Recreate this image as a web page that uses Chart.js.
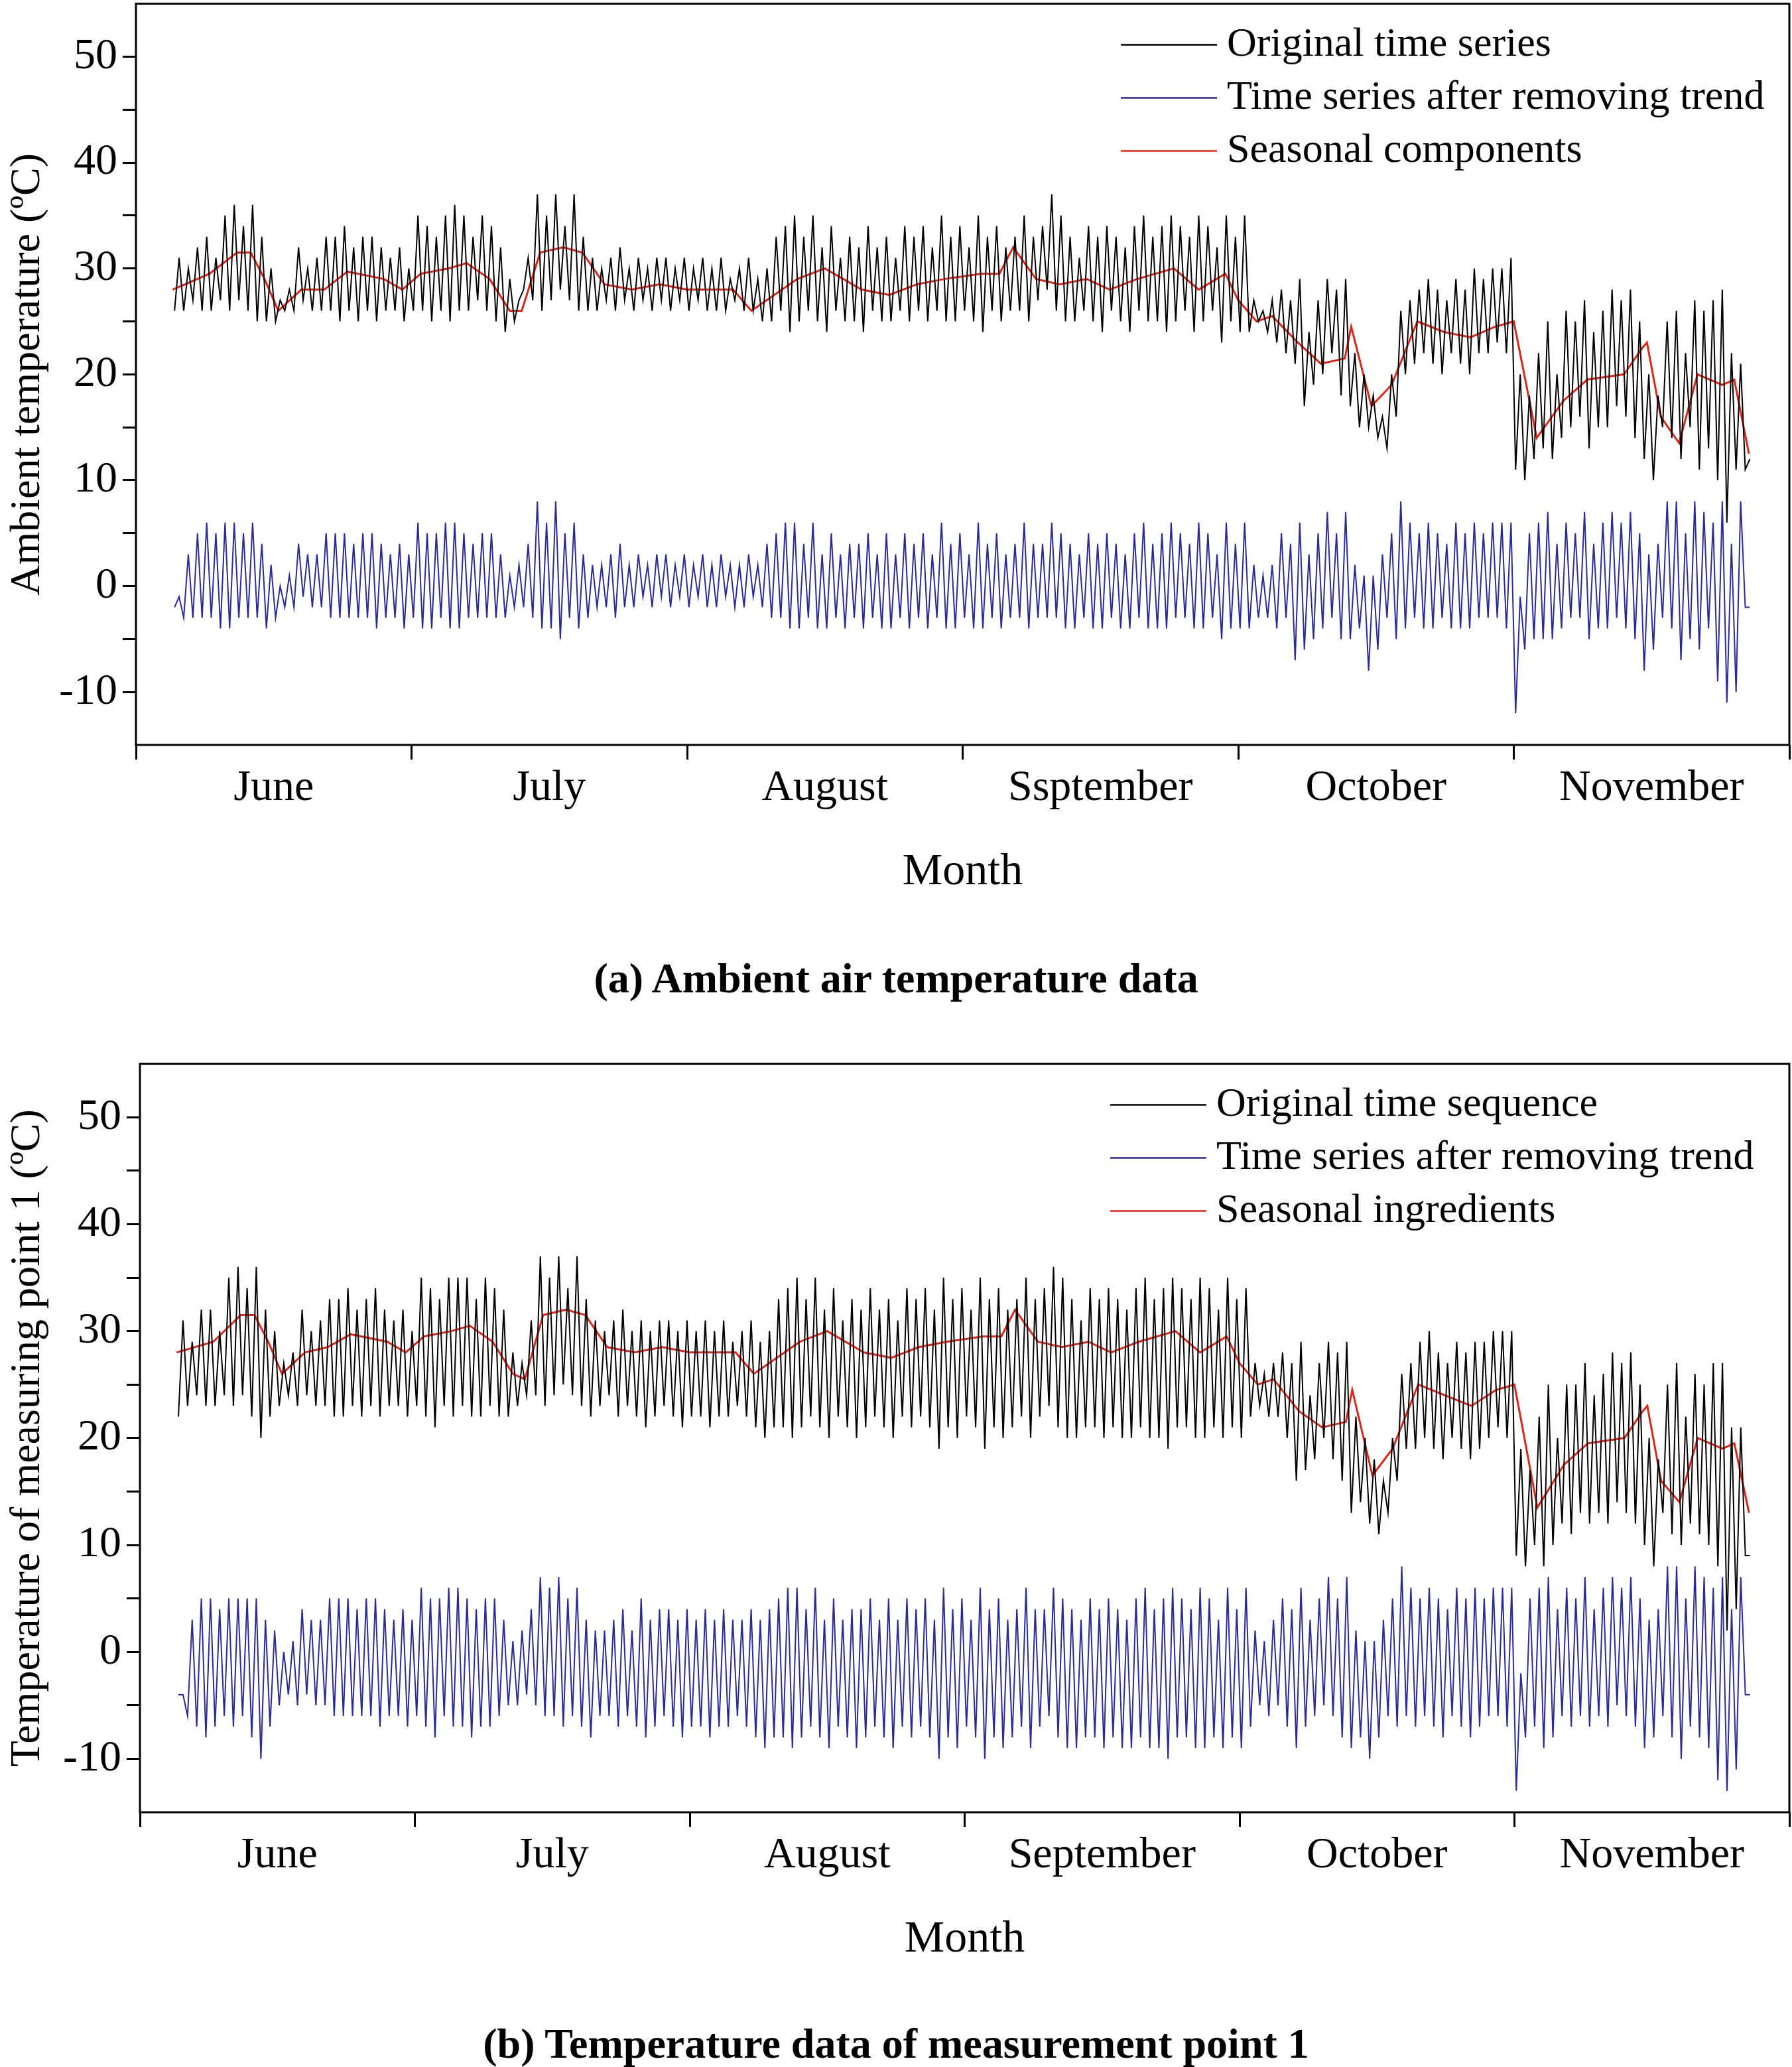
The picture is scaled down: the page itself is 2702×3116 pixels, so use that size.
<!DOCTYPE html>
<html>
<head>
<meta charset="utf-8">
<script src="https://cdn.jsdelivr.net/npm/chart.js@4.4.1/dist/chart.umd.min.js"></script>
<style>
  body { margin: 0; background: #fff; width: 2702px; height: 3116px; position: relative; font-family: "Liberation Serif", serif; overflow: hidden; }
  .wrap { position: absolute; left: 0; width: 2702px; }
  .cap { position: absolute; left: 0; width: 2702px; text-align: center; font-weight: bold; font-size: 64px; line-height: 70px; }
</style>
</head>
<body>
<div class="wrap" style="top:-42px;height:1402px"><canvas id="chart_a"></canvas></div>
<div class="cap" style="top:1440px">(a) Ambient air temperature data</div>
<div class="wrap" style="top:1556px;height:1413px"><canvas id="chart_b"></canvas></div>
<div class="cap" style="top:3046px">(b) Temperature data of measurement point 1</div>
<script>
// months on x axis, each drawn as a 30 day block
let month_labels_a = ['June', 'July', 'August', 'Ssptember', 'October', 'November'];
let month_labels_b = ['June', 'July', 'August', 'September', 'October', 'November'];
let first_day = 4;

// panel (a) daily highs / lows
let orig_high_a = [31,30,32,33,31,35,36,34,36,33, 30,27,28,32,30,31,33,33,34,32, 33,33,32,31,32,30,35,34,33,35,
  36,35,33,35,34,32,29,27,31,37, 35,37,34,37,33,31,30,31,32,30, 31,30,31,31,30,31,30,31,30,31,
  29,30,31,29,30,33,34,35,33,35, 32,34,31,33,32,34,32,33,31,34, 33,34,32,35,33,34,32,35,33,34,
  32,33,35,33,34,37,35,33,31,34, 33,34,33,32,34,35,33,34,35,34, 33,35,34,32,35,33,35,27,26,27,
  28,27,29,24,27,29,28,29,22,20, 18,16,20,26,27,28,29,28,27,29, 28,30,29,30,30,31,20,18,22,25,
  20,26,25,27,24,26,28,27,28,25, 20,18,25,26,22,27,26,27,28,22, 21,12];
let orig_low_a = [26,26,27,26,26,27,26,27,26,25, 25,25,26,26,27,26,26,26,25,26, 25,26,25,26,26,25,26,26,25,26,
  25,26,26,27,26,25,24,25,28,27, 26,27,28,27,26,26,26,27,26,27, 26,27,26,27,26,27,26,27,26,26,
  26,27,26,26,25,25,26,24,25,26, 25,24,26,25,25,24,26,25,25,26, 25,26,25,26,25,25,26,25,24,26,
  25,26,26,25,27,28,26,25,25,26, 25,24,26,25,24,26,25,25,24,25, 26,24,25,26,23,25,24,24,25,24,
  23,22,21,17,19,20,22,18,17,15, 15,14,13,16,20,21,22,21,20,22, 21,20,22,22,23,22,11,10,12,13,
  12,14,15,16,13,15,15,17,16,14, 12,10,15,14,12,15,11,13,10,6, 11,11];
let det_high_a = [-1,3,5,6,5,6,6,5,6,4, 2,0,1,4,3,3,5,5,5,4, 5,5,4,3,4,3,6,5,5,6,
  6,5,4,5,5,3,1,2,4,8, 6,8,5,6,3,2,2,3,4,2, 3,2,3,3,2,3,2,3,2,3,
  2,2,3,2,4,5,6,6,4,6, 3,5,3,4,4,5,3,5,3,5, 4,5,3,6,4,5,3,6,4,5,
  3,4,6,4,4,6,5,4,3,5, 4,5,4,3,5,6,4,5,6,5, 4,6,5,3,6,4,6,2,1,2,
  5,4,6,3,5,7,5,7,2,1, 1,3,5,8,6,5,6,5,4,6, 5,6,5,6,6,6,-1,5,6,7,
  4,6,5,7,4,6,7,6,7,5, 3,4,8,8,5,8,7,6,8,4, 8,-2];
let det_low_a = [-2,-3,-3,-3,-3,-4,-4,-3,-3,-3, -4,-3,-2,-2,-1,-2,-2,-3,-3,-3, -3,-3,-4,-3,-3,-4,-3,-4,-4,-3,
  -4,-4,-3,-3,-3,-3,-3,-2,-2,-3, -4,-4,-5,-3,-4,-3,-2,-2,-3,-2, -2,-1,-2,-1,-2,-1,-2,-1,-2,-2,
  -1,-2,-2,-1,-2,-3,-3,-4,-4,-3, -4,-4,-3,-4,-3,-4,-3,-4,-4,-3, -4,-3,-4,-3,-4,-4,-3,-4,-4,-3,
  -4,-3,-3,-4,-3,-3,-3,-4,-4,-3, -4,-4,-3,-4,-4,-3,-4,-4,-4,-3, -3,-4,-4,-3,-5,-4,-4,-4,-3,-3,
  -4,-3,-7,-6,-5,-4,-3,-5,-5,-4, -8,-6,-3,-5,-4,-3,-4,-4,-3,-4, -4,-4,-3,-3,-3,-4,-12,-6,-5,-5,
  -5,-4,-3,-3,-5,-4,-4,-3,-4,-5, -8,-6,-3,-4,-7,-5,-6,-4,-9,-11, -10,-2];

// seasonal component (same shape in both panels)
let seasonal_days = [4,8,11,12.5,14,15.5,18,20.5,23,27,29,31,34,36,38.5,40.7,42,44,46.5,48.6,51,54,57,60,65,67,72,75,79,82,85,88,92,94,95.5,98,100.6,103.5,106,109,113,115.7,118.6,120,122,123.7,126.5,129,131.6,132.3,134.5,136.7,139.5,142.4,145.3,148,150,152.5,155.4,158,162,164,164.5,166,168,170,172.7,174,175.6];
let seasonal_a = [28,29.5,31.5,31.5,29,26,28,28,29.7,29,28,29.5,30,30.5,29,26,26,31.5,32,31.5,28.5,28,28.5,28,28,26,29,30,28,27.5,28.5,29,29.5,29.5,32,29,28.5,29,28,29,30,28,29.5,27,25,25.5,23,21,21.5,24.5,17,19,25,24,23.5,24.5,25,14,17.5,19.5,20,22.5,23,16,13.5,20,19,19.5,12.5];
let seasonal_b = [28,29,31.5,31.5,29,26,28,28.5,29.7,29,28,29.5,30,30.5,29,26,25.5,31.5,32,31.5,28.5,28,28.5,28,28,26,29,30,28,27.5,28.5,29,29.5,29.5,32,29,28.5,29,28,29,30,28,29.5,27,25,25.5,22.5,21,21.5,24.5,16.5,19,25,24,23,24.5,25,13.5,17.5,19.5,20,22.5,23,16,14,20,19,19.5,13];

// panel (b)
let orig_high_b = [31,29,32,32,30,35,36,34,36,32, 30,27,28,32,30,31,33,33,34,32, 33,34,32,31,32,30,35,34,33,35,
  35,35,33,35,34,32,28,27,31,37, 35,37,34,37,33,31,30,31,32,30, 31,30,31,31,30,31,30,31,30,31,
  29,30,31,29,30,33,34,35,33,35, 32,34,31,33,32,34,32,33,31,34, 33,34,32,35,33,34,32,35,33,34,
  32,33,35,33,34,36,35,33,31,34, 33,34,33,32,34,35,33,34,35,34, 33,35,34,32,35,33,34,27,26,27,
  28,27,29,24,27,29,28,29,22,20, 18,16,20,26,27,29,30,28,27,29, 28,29,29,30,30,30,19,17,22,25,
  20,25,25,27,24,26,28,27,28,25, 20,18,25,27,22,26,25,27,27,21, 21,9];
let orig_low_b = [22,23,24,23,23,24,23,24,22,20, 22,23,24,23,24,23,23,22,22,23, 22,23,22,23,23,22,23,22,21,23,
  22,23,22,22,23,22,22,23,24,24, 23,24,25,24,23,22,23,24,22,23, 22,21,22,23,22,21,22,22,21,22,
  22,23,22,21,20,21,21,20,21,22, 21,20,22,21,20,21,22,21,20,22, 21,22,21,19,21,20,22,21,19,21,
  20,21,22,20,22,23,21,20,20,21, 21,20,21,20,20,21,20,20,19,21, 21,20,20,21,20,21,20,22,23,22,
  22,20,16,17,18,20,18,16,13,14, 12,11,13,16,19,19,20,19,18,20, 19,18,19,20,21,20,9,8,10,8,
  10,12,11,13,12,13,12,14,13,12, 10,8,13,11,10,12,11,10,8,2, 4,9];
let det_high_b = [-4,3,5,5,4,5,5,5,5,3, 2,0,1,4,3,3,5,5,5,4, 5,5,4,3,4,3,6,5,5,6,
  6,5,4,5,5,3,1,2,4,7, 6,7,5,6,3,2,2,3,4,2, 5,3,4,4,3,4,3,4,3,4,
  3,3,4,3,4,5,6,6,4,6, 3,5,3,4,4,5,3,5,3,5, 4,5,3,6,4,5,3,6,4,5,
  3,4,6,4,4,6,5,4,3,5, 4,5,4,3,5,6,4,5,6,5, 4,6,5,3,6,4,6,2,1,3,
  5,4,6,3,5,7,5,7,2,1, 1,3,5,8,6,5,6,5,4,6, 5,6,5,6,6,6,-2,5,6,7,
  4,6,5,7,4,6,7,6,7,5, 3,4,8,8,5,8,7,6,7,4, 7,-4];
let det_low_b = [-4,-6,-7,-8,-7,-6,-7,-6,-8,-10, -7,-5,-4,-5,-4,-5,-5,-6,-6,-6, -6,-6,-7,-6,-6,-7,-6,-7,-8,-6,
  -7,-7,-8,-7,-7,-6,-5,-5,-4,-5, -6,-6,-7,-6,-7,-8,-6,-6,-7,-6, -7,-8,-7,-6,-7,-8,-7,-7,-8,-7,
  -7,-6,-7,-8,-9,-8,-8,-9,-8,-7, -8,-9,-7,-8,-9,-8,-7,-8,-9,-7, -8,-7,-8,-10,-8,-9,-7,-8,-10,-8,
  -9,-8,-7,-9,-7,-6,-8,-9,-9,-8, -8,-9,-8,-9,-9,-8,-9,-9,-10,-8, -8,-9,-9,-8,-9,-8,-9,-7,-5,-6,
  -5,-7,-9,-7,-6,-5,-6,-8,-9,-8, -10,-8,-6,-7,-6,-7,-6,-7,-8,-6, -7,-8,-7,-6,-6,-7,-13,-8,-7,-9,
  -8,-6,-7,-6,-7,-6,-7,-5,-6,-7, -9,-8,-6,-8,-10,-7,-8,-9,-12,-13, -11,-4];

// low then high inside each day
const dailyPoints = (lows, highs) => {
    let pts = [];
    lows.forEach((low, i) => {
        pts.push({x: first_day + i + 0.2, y: low});
        pts.push({x: first_day + i + 0.7, y: highs[i]});
    });
    return pts;
}

const framePlugin = {
    id: 'frame',
    afterDraw(chart) {
        let ctx = chart.ctx, a = chart.chartArea;
        ctx.save();
        ctx.strokeStyle = '#000';
        ctx.lineWidth = 3;
        ctx.strokeRect(a.left, a.top, a.right - a.left, a.bottom - a.top);
        // legend inside top right
        let lx = chart.options.plugins.frame.legendX;
        ctx.font = '62px "Liberation Serif"';
        ctx.textBaseline = 'middle';
        chart.data.datasets.forEach((ds, i) => {
            let y = a.top + 62 + i * 80;
            ctx.strokeStyle = ds.borderColor;
            ctx.lineWidth = 2.5;
            ctx.beginPath();
            ctx.moveTo(lx, y);
            ctx.lineTo(lx + 145, y);
            ctx.stroke();
            ctx.fillStyle = '#000';
            ctx.fillText(ds.label, lx + 160, y);
        });
        ctx.restore();
    }
};

const drawPanel = (canvas_id, months, y_title, labels, origL, origH, detL, detH, seas, left, padTop, legendX) => {
    let chart_holder = document.getElementById(canvas_id);
    let font = {family: 'Liberation Serif', size: 66};
    new Chart(chart_holder, {
        type: 'line',
        data: {
            datasets: [
                {label: labels[0], data: dailyPoints(origL, origH), borderColor: '#000000', borderWidth: 2, pointRadius: 0, tension: 0},
                {label: labels[1], data: dailyPoints(detL, detH), borderColor: '#2b2b94', borderWidth: 2, pointRadius: 0, tension: 0},
                {label: labels[2], data: seasonal_days.map((d, i) => ({x: d, y: seas[i]})), borderColor: '#d8281c', borderWidth: 3, pointRadius: 0, tension: 0}
            ]
        },
        options: {
            responsive: true,
            maintainAspectRatio: false,
            animation: false,
            layout: {padding: {top: padTop, right: 4, left: 0, bottom: 0}},
            plugins: {legend: {display: false}, tooltip: {enabled: false}, frame: {legendX: legendX}},
            scales: {
                x: {
                    type: 'linear', min: 0, max: 180,
                    afterFit: s => { s.height = 237; },
                    border: {display: false},
                    grid: {drawOnChartArea: false, tickLength: 22, lineWidth: 3,
                        tickColor: c => (c.tick && c.tick.value % 30 === 0) ? '#000' : 'rgba(0,0,0,0)'},
                    ticks: {stepSize: 15, autoSkip: false, maxRotation: 0, color: '#000', font: font, padding: 4,
                        callback: v => v % 30 === 15 ? months[(v - 15) / 30] : ''},
                    title: {display: true, text: 'Month', color: '#000', font: {family: 'Liberation Serif', size: 68}, padding: {top: 0}}
                },
                y: {
                    min: -15, max: 55,
                    afterFit: s => { s.width = left; },
                    border: {display: false},
                    grid: {drawOnChartArea: false, tickLength: 20, lineWidth: 3,
                        tickColor: c => (c.tick && (c.tick.value === -15 || c.tick.value === 55)) ? 'rgba(0,0,0,0)' : '#000'},
                    ticks: {stepSize: 5, autoSkip: false, color: '#000', font: font, padding: 8,
                        callback: v => v % 10 === 0 ? v : ''},
                    title: {display: true, text: y_title, color: '#000', font: {family: 'Liberation Serif', size: 64}, padding: {bottom: 2}}
                }
            }
        },
        plugins: [framePlugin]
    });
}

drawPanel('chart_a', month_labels_a, 'Ambient temperature (ºC)',
    ['Original time series', 'Time series after removing trend', 'Seasonal components'],
    orig_low_a, orig_high_a, det_low_a, det_high_a, seasonal_a, 205, 2, 1690);
drawPanel('chart_b', month_labels_b, 'Temperature of measuring point 1 (ºC)',
    ['Original time sequence', 'Time series after removing trend', 'Seasonal ingredients'],
    orig_low_b, orig_high_b, det_low_b, det_high_b, seasonal_b, 211, 6, 1674);
</script>
</body>
</html>
